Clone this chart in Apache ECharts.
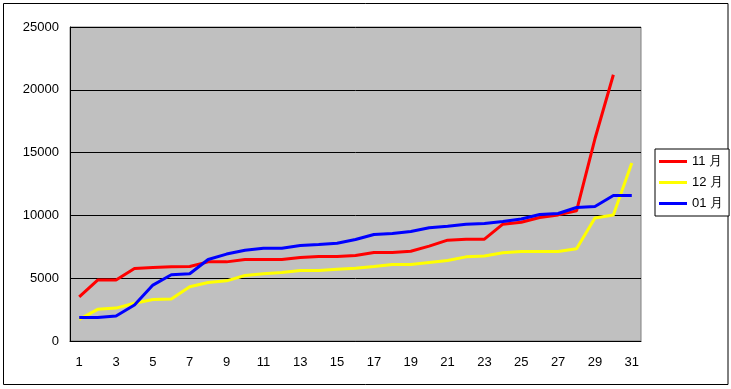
<!DOCTYPE html>
<html>
<head>
<meta charset="utf-8">
<script src="https://cdn.jsdelivr.net/npm/echarts@6/dist/echarts.min.js"></script>
<style>
html,body{margin:0;padding:0;background:#fff;}
#c{width:731px;height:389px;}
</style>
</head>
<body>
<div id="c"></div>
<script>
var categories = ['1','2','3','4','5','6','7','8','9','10','11','12','13','14','15','16','17','18','19','20','21','22','23','24','25','26','27','28','29','30','31'];
var nov = [3520,4850,4850,5780,5860,5910,5935,6300,6300,6490,6490,6490,6650,6730,6730,6810,7050,7050,7150,7550,8030,8110,8110,9300,9460,9830,10040,10360,16100,21200,null];
var dec = [1720,2520,2620,3000,3310,3340,4320,4660,4790,5220,5350,5460,5620,5620,5720,5800,5930,6090,6090,6250,6410,6700,6760,7020,7130,7130,7130,7340,9800,10040,14170];
var jan = [1880,1880,1990,2860,4450,5270,5350,6490,6920,7230,7390,7390,7600,7680,7790,8080,8480,8560,8720,9010,9140,9300,9350,9510,9720,10070,10150,10630,10710,11580,11580];
var seriesNames = ['11 月','12 月','01 月'];
var yTicks = {min:0, max:25000, interval:5000};

var chart = echarts.init(document.getElementById('c'), null, {renderer:'canvas'});
var font = 'Liberation Sans, Arial, sans-serif';
function mk(name, data, color){
  return {name:name, type:'line', data:data, symbol:'none', smooth:false,
    lineStyle:{color:color, width:3}, itemStyle:{color:color}, connectNulls:false, animation:false};
}
chart.setOption({
  animation:false,
  backgroundColor:'#fff',
  graphic:[{type:'rect', shape:{x:3.5,y:3.5,width:724.5,height:381}, style:{fill:null, stroke:'#000', lineWidth:1}, z:-1}],
  grid:{left:70, top:27, width:571, height:314, show:true, backgroundColor:'#C0C0C0', borderColor:'#808080', borderWidth:1},
  legend:{
    orient:'vertical', left:655, top:149, itemWidth:28, itemHeight:3, itemGap:8,
    padding:[6,6,6,4], borderColor:'#000', borderWidth:1, backgroundColor:'#fff',
    icon:'rect',
    textStyle:{fontFamily:font, fontSize:13, color:'#000'},
    data:seriesNames
  },
  xAxis:{
    type:'category', data:categories, boundaryGap:true,
    axisLine:{lineStyle:{color:'#000', width:1}},
    axisTick:{inside:true, length:4, interval:0, lineStyle:{color:'#000'}},
    axisLabel:{interval:1, color:'#000', fontFamily:font, fontSize:13, margin:15},
    splitLine:{show:false}
  },
  yAxis:{
    type:'value', min:yTicks.min, max:yTicks.max, interval:yTicks.interval,
    axisLine:{show:true, lineStyle:{color:'#000', width:1}},
    axisTick:{show:false},
    axisLabel:{color:'#000', fontFamily:font, fontSize:13, margin:11, formatter:function(v){return String(v);}},
    splitLine:{show:true, lineStyle:{color:'#000', width:1}}
  },
  series:[mk(seriesNames[0], nov, '#FF0000'), mk(seriesNames[1], dec, '#FFFF00'), mk(seriesNames[2], jan, '#0000FF')]
});
</script>
</body>
</html>
